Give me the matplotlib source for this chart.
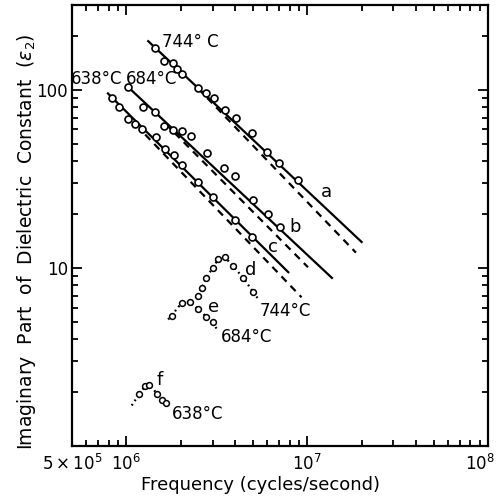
import matplotlib.pyplot as plt
import matplotlib.transforms as mtransforms
import numpy as np

# curve a (744 C), open circles + fitted solid line + dashed line
a_freq = [1.43e6, 1.62e6, 1.82e6, 1.91e6, 2.02e6, 2.50e6, 2.75e6, 3.05e6,
          3.51e6, 4.04e6, 4.97e6, 6.02e6, 6.98e6, 8.93e6]
a_eps = [172, 146, 141, 132, 123, 103, 96, 90, 77, 70, 57.5, 44.7, 38.8, 31.4]
a_fit_freq = [1.32e6, 2.0e7]
a_fit_eps = [188, 14]
a_dash_freq = [2.49e6, 1.86e7]
a_dash_eps = [102, 12.2]

# curve b (684 C)
b_freq = [1.02e6, 1.23e6, 1.43e6, 1.62e6, 1.82e6, 2.02e6, 2.28e6, 2.79e6,
          3.48e6, 3.99e6, 5.03e6, 6.05e6, 7.07e6]
b_eps = [104.6, 80.1, 75.0, 62.4, 59.8, 58.7, 54.8, 44.2, 36.4, 32.9, 24.2, 20.1, 17.0]
b_fit_freq = [1.0e6, 1.37e7]
b_fit_eps = [106, 8.8]
b_dash_freq = [1.64e6, 1.01e7]
b_dash_eps = [64.8, 10.1]

# curve c (638 C)
c_freq = [8.29e5, 9.13e5, 1.02e6, 1.12e6, 1.22e6, 1.45e6, 1.64e6, 1.83e6,
          2.04e6, 2.49e6, 3.02e6, 3.99e6, 4.98e6]
c_eps = [90.4, 80.1, 68.9, 64.6, 60.0, 54.3, 46.7, 43.4, 38.0, 30.6, 25.0, 18.7, 14.9]
c_fit_freq = [7.9e5, 7.86e6]
c_fit_eps = [95.6, 9.47]
c_dash_freq = [1.27e6, 9.3e6]
c_dash_eps = [56.2, 6.85]

# peaks d (744 C), e (684 C), f (638 C)
d_freq = [2.50e6, 2.62e6, 2.76e6, 3.00e6, 3.23e6, 3.51e6, 3.90e6, 4.44e6, 5.03e6]
d_eps = [6.94, 7.77, 8.81, 10.0, 11.26, 11.5, 10.2, 8.79, 7.31]
d_tail_freq = [5.03e6, 5.43e6]
d_tail_eps = [7.31, 6.57]

e_freq = [1.78e6, 2.02e6, 2.25e6, 2.48e6, 2.76e6, 3.02e6]
e_eps = [5.41, 6.38, 6.43, 5.90, 5.34, 4.96]
e_tail_freq = [1.70e6, 1.78e6, 3.02e6, 3.21e6]
e_tail_eps = [5.14, 5.41, 4.96, 4.40]

f_freq = [1.18e6, 1.27e6, 1.34e6, 1.48e6, 1.57e6, 1.65e6]
f_eps = [1.965, 2.168, 2.207, 1.965, 1.818, 1.740]
f_tail_freq = [1.07e6, 1.18e6, 1.65e6, 1.70e6]
f_tail_eps = [1.689, 1.965, 1.740, 1.652]

plt.rcParams['font.family'] = 'DejaVu Sans'
plt.rcParams['mathtext.fontset'] = 'dejavusans'

fig = plt.figure(figsize=(5, 5.04), dpi=100)
ax = fig.add_axes([0.144, 0.115, 0.832, 0.875])

circ = dict(marker='o', mfc='white', mec='black', ms=5, mew=1.2, linestyle='none')
dash = (0, (3.3, 2.6))
dots = (0, (0.8, 1.6))

for fx, fy in [(a_fit_freq, a_fit_eps), (b_fit_freq, b_fit_eps), (c_fit_freq, c_fit_eps)]:
    ax.plot(fx, fy, color='black', lw=1.6)
for fx, fy in [(a_dash_freq, a_dash_eps), (b_dash_freq, b_dash_eps), (c_dash_freq, c_dash_eps)]:
    ax.plot(fx, fy, color='black', lw=1.6, linestyle=dash)
for fx, fy in [(a_freq, a_eps), (b_freq, b_eps), (c_freq, c_eps)]:
    ax.plot(fx, fy, **circ)

# dotted peaks
for fx, fy in [(d_freq, d_eps), (e_freq, e_eps), (f_freq, f_eps), (d_tail_freq, d_tail_eps)]:
    ax.plot(fx, fy, color='black', lw=1.6, linestyle=dots)
for tx, ty in [(e_tail_freq, e_tail_eps), (f_tail_freq, f_tail_eps)]:
    ax.plot(tx[:2], ty[:2], color='black', lw=1.6, linestyle=dots)
    ax.plot(tx[2:], ty[2:], color='black', lw=1.6, linestyle=dots)
small = dict(circ, ms=4.2, mew=1.1)
for fx, fy in [(d_freq, d_eps), (e_freq, e_eps), (f_freq, f_eps)]:
    ax.plot(fx, fy, **small)

# labels
fs = 12
ax.text(2.25e6, 187, '744° C', fontsize=fs, ha='center', va='center')
ax.text(6.88e5, 116, '638°C', fontsize=fs, ha='center', va='center')
ax.text(1.37e6, 116, '684°C', fontsize=fs, ha='center', va='center')
ax.text(1.28e7, 26.7, 'a', fontsize=13, ha='center', va='center')
ax.text(8.56e6, 17.0, 'b', fontsize=13, ha='center', va='center')
ax.text(6.49e6, 13.1, 'c', fontsize=13, ha='center', va='center')
ax.text(4.87e6, 9.77, 'd', fontsize=13, ha='center', va='center')
ax.text(3.05e6, 6.02, 'e', fontsize=13, ha='center', va='center')
ax.text(1.53e6, 2.35, 'f', fontsize=13, ha='center', va='center')
ax.text(7.54e6, 5.77, '744°C', fontsize=fs, ha='center', va='center')
ax.text(4.59e6, 4.10, '684°C', fontsize=fs, ha='center', va='center')
ax.text(2.49e6, 1.52, '638°C', fontsize=fs, ha='center', va='center')

ax.set_xscale('log')
ax.set_yscale('log')
ax.set_xlim(5e5, 1e8)
ax.set_ylim(1, 300)

ax.set_xticks([5e5, 1e6, 1e7, 1e8])
ax.set_xticklabels([r'$5\times10^5$', r'$10^6$', r'$10^7$', r'$10^8$'])
ax.set_xticks(list(np.arange(6e5, 1e6, 1e5)) + list(np.arange(2e6, 1e7, 1e6))
              + list(np.arange(2e7, 1e8, 1e7)), minor=True)
ax.set_yticks([10, 100])
ax.set_yticklabels(['10', '100'])
ax.set_yticks(list(range(2, 10)) + list(range(20, 100, 10)) + [200], minor=True)
ax.xaxis.set_minor_formatter(plt.NullFormatter())
ax.yaxis.set_minor_formatter(plt.NullFormatter())

ax.tick_params(which='both', direction='in', top=True, right=True, width=1.3, labelsize=12)
ax.tick_params(which='major', length=7)
ax.tick_params(which='minor', length=4)
ax.tick_params(axis='x', pad=6)
ax.tick_params(axis='y', pad=3)
for s in ax.spines.values():
    s.set_linewidth(1.6)

# keep 10^8 inside the figure, as in the original
last = ax.get_xticklabels()[-1]
last.set_transform(last.get_transform()
                   + mtransforms.ScaledTranslation(-6 / 72, 0, fig.dpi_scale_trans))

ax.set_xlabel('Frequency (cycles/second)', fontsize=13)
ax.set_ylabel(r'Imaginary  Part  of  Dielectric  Constant  ($\epsilon_2$)', fontsize=13.5)
ax.xaxis.set_label_coords(0.452, -0.068)
ax.yaxis.set_label_coords(-0.082, 0.463)

fig.savefig('out.png', dpi=100)
